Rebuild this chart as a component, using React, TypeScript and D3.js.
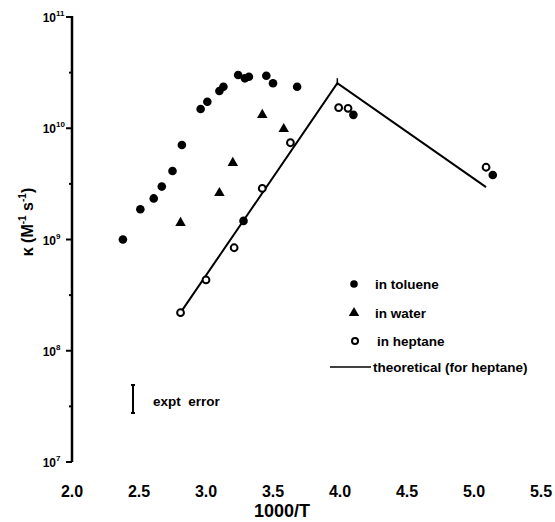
import React from "react";
import * as d3 from "d3";

const tolueneX = [2.38, 2.51, 2.61, 2.67, 2.75, 2.82, 2.96, 3.01, 3.10, 3.13, 3.24, 3.29, 3.32, 3.45, 3.50, 3.68, 3.28, 4.10, 5.14];
const tolueneK = [1.0e9, 1.87e9, 2.34e9, 2.99e9, 4.13e9, 7.06e9, 1.49e10, 1.73e10, 2.16e10, 2.36e10, 3.01e10, 2.81e10, 2.9e10, 2.96e10, 2.54e10, 2.36e10, 1.47e9, 1.32e10, 3.8e9];
const waterX = [2.81, 3.10, 3.20, 3.42, 3.58];
const waterK = [1.41e9, 2.62e9, 4.88e9, 1.32e10, 9.84e9];
const heptaneX = [2.81, 3.0, 3.21, 3.42, 3.63, 3.99, 4.06, 5.09];
const heptaneK = [2.2e8, 4.33e8, 8.43e8, 2.88e9, 7.41e9, 1.53e10, 1.51e10, 4.46e9];
const theoryX = [2.81, 3.98, 5.09];
const theoryK = [2.2e8, 2.54e10, 2.96e9];
const xTicks = [2.0, 2.5, 3.0, 3.5, 4.0, 4.5, 5.0, 5.5];
const yExponents = [7, 8, 9, 10, 11];
const legendLabels = ["in toluene", "in water", "in heptane", "theoretical (for heptane)"];

const FONT = "'Liberation Sans', Arial, sans-serif";

export default function App() {
  const x = d3.scaleLinear().domain([2, 5.5]).range([72, 541]);
  const y = d3.scaleLog().domain([1e7, 1e11]).range([462, 17]);
  const line = d3
    .line<number>()
    .x((_, i) => x(theoryX[i]))
    .y((d) => y(d));
  const minor = yExponents.slice(0, -1).map((e) => Math.pow(10, e + 0.5));
  const tri = d3.symbol().type(d3.symbolTriangle).size(48);
  const apexX = x(theoryX[1]);
  const apexY = y(theoryK[1]);

  return (
    <svg width={555} height={522} style={{ position: "absolute", left: 0, top: 0, background: "#fff" }}>
      <g fontFamily={FONT} fontWeight="bold" fill="#000">
        {/* y axis */}
        <line x1={72} x2={72} y1={y(1e7)} y2={y(1e11) - 1} stroke="#000" strokeWidth={2.5} />
        {yExponents.map((e) => (
          <g key={e}>
            <line x1={66} x2={72} y1={y(Math.pow(10, e))} y2={y(Math.pow(10, e))} stroke="#000" strokeWidth={2} />
            <text x={56} y={y(Math.pow(10, e)) + 5} fontSize={12} textAnchor="end">10</text>
            <text x={56} y={y(Math.pow(10, e)) - 1} fontSize={8}>{e}</text>
          </g>
        ))}
        {minor.map((v, i) => (
          <line key={i} x1={69} x2={72} y1={y(v)} y2={y(v)} stroke="#000" strokeWidth={2} />
        ))}
        {/* x tick labels */}
        {xTicks.map((t) => (
          <text key={t} x={x(t)} y={497} fontSize={16} textAnchor="middle">{t.toFixed(1)}</text>
        ))}
        <text x={282} y={517} fontSize={18} textAnchor="middle">1000/T</text>
        <text transform="translate(33,222) rotate(-90)" fontSize={16} textAnchor="middle">
          κ (M<tspan fontSize={10} dy={-7}>-1</tspan><tspan dy={7}> s</tspan><tspan fontSize={10} dy={-7}>-1</tspan><tspan dy={7}>)</tspan>
        </text>

        {/* theory line */}
        <path d={line(theoryK) || ""} fill="none" stroke="#000" strokeWidth={2} />
        <line x1={apexX} x2={apexX} y1={apexY - 5} y2={apexY + 2} stroke="#000" strokeWidth={1.5} />

        {/* toluene */}
        {tolueneX.map((v, i) => (
          <circle key={"t" + i} cx={x(v)} cy={y(tolueneK[i])} r={4.3} fill="#000" />
        ))}
        {/* water */}
        {waterX.map((v, i) => (
          <path key={"w" + i} d={tri() || ""} transform={`translate(${x(v)},${y(waterK[i])})`} fill="#000" />
        ))}
        {/* heptane */}
        {heptaneX.map((v, i) => (
          <circle key={"h" + i} cx={x(v)} cy={y(heptaneK[i])} r={3.4} fill="#fff" stroke="#000" strokeWidth={2} />
        ))}

        {/* legend */}
        <circle cx={354} cy={284} r={3.8} fill="#000" />
        <text x={375} y={289} fontSize={13.5}>{legendLabels[0]}</text>
        <path d={tri() || ""} transform="translate(354,313)" fill="#000" />
        <text x={375} y={318} fontSize={13.5}>{legendLabels[1]}</text>
        <circle cx={355} cy={341} r={3} fill="#fff" stroke="#000" strokeWidth={2} />
        <text x={377} y={346} fontSize={13.5}>{legendLabels[2]}</text>
        <line x1={330} x2={371} y1={367} y2={367} stroke="#000" strokeWidth={1.5} />
        <text x={373} y={372} fontSize={13.5}>{legendLabels[3]}</text>

        {/* expt error */}
        <line x1={133} x2={133} y1={385} y2={413} stroke="#000" strokeWidth={2} />
        <line x1={131} x2={135} y1={385} y2={385} stroke="#000" strokeWidth={2} />
        <line x1={131} x2={135} y1={413} y2={413} stroke="#000" strokeWidth={2} />
        <text x={153} y={406} fontSize={13.5} style={{ whiteSpace: "pre" }}>expt  error</text>
      </g>
    </svg>
  );
}
